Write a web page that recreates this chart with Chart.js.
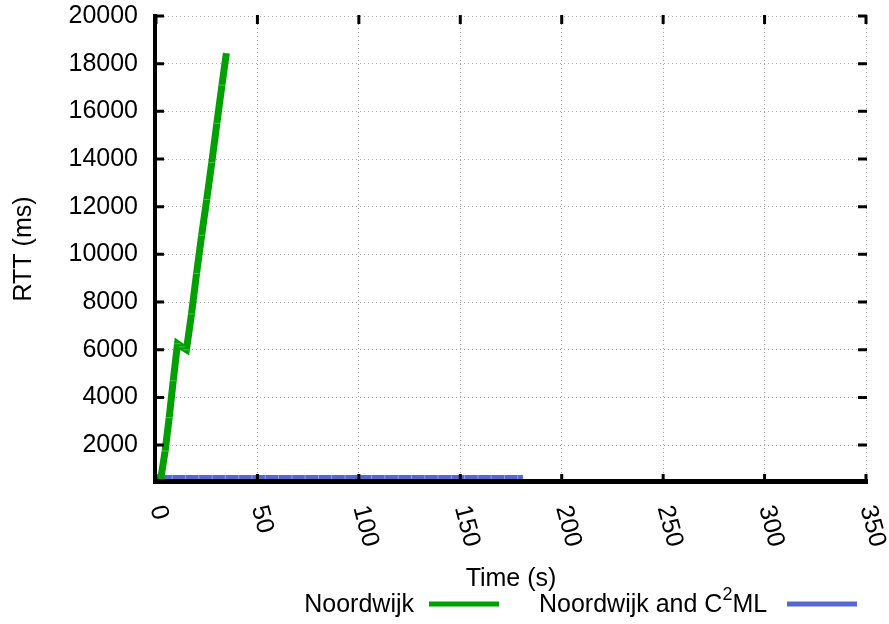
<!DOCTYPE html>
<html>
<head>
<meta charset="utf-8">
<script src="https://cdn.jsdelivr.net/npm/chart.js@4/dist/chart.umd.min.js"></script>
<style>
  body { margin: 0; background: #fff; }
</style>
</head>
<body>
<canvas id="chart" width="889" height="624"></canvas>
<script>
// data
const greenTime = [2.2, 4.5, 6.5, 8.5, 10.6, 12.8, 15.0, 17.5, 20.0, 22.5, 25.0, 27.5, 30.0, 32.5, 34.7];
const greenRtt  = [500, 1750, 3150, 4700, 6250, 6120, 6000, 7500, 9200, 10800, 12300, 13850, 15500, 17100, 18450];

const blueTime = [1.4, 8.0, 14.6, 21.1, 27.7, 34.2, 40.8, 47.3, 53.9, 60.4, 67.0, 73.5, 80.1, 86.6, 93.2,
                  99.7, 106.3, 112.8, 119.4, 125.9, 132.5, 139.0, 145.6, 152.1, 158.7, 165.2, 171.8, 178.3, 181.0];
const blueRtt  = [620, 618, 621, 619, 620, 622, 618, 620, 621, 619, 620, 618, 620, 622, 619,
                  620, 621, 618, 620, 619, 621, 620, 618, 620, 622, 619, 620, 621, 620];

const xTicks = [0, 50, 100, 150, 200, 250, 300, 350];
const yTicks = [2000, 4000, 6000, 8000, 10000, 12000, 14000, 16000, 18000, 20000];

const FONT = '"Liberation Sans", Arial, sans-serif';
const GREEN = '#00a000';
const BLUE = '#5468d4';

// border, inward ticks, rotated x labels, legend
const frame = {
    id: 'frame',
    afterDraw(chart) {
        const { ctx, chartArea: a, scales: { x, y } } = chart;
        ctx.save();
        ctx.strokeStyle = '#000';

        ctx.lineWidth = 3;
        ctx.beginPath();
        yTicks.forEach(v => {
            const py = y.getPixelForValue(v);
            ctx.moveTo(a.left, py); ctx.lineTo(a.left + 8, py);
            ctx.moveTo(a.right + 1, py); ctx.lineTo(a.right - 8, py);
        });
        xTicks.forEach(v => {
            const px = x.getPixelForValue(v);
            ctx.moveTo(px, a.bottom); ctx.lineTo(px, a.bottom - 8);
            ctx.moveTo(px, a.top - 1); ctx.lineTo(px, a.top + 8);
        });
        ctx.stroke();

        ctx.lineWidth = 4;
        ctx.beginPath();
        ctx.moveTo(a.left - 1, a.top - 2);
        ctx.lineTo(a.left - 1, a.bottom - 0.5);
        ctx.stroke();
        ctx.lineWidth = 5;
        ctx.beginPath();
        ctx.moveTo(a.left - 3, a.bottom - 0.5);
        ctx.lineTo(a.right + 2, a.bottom - 0.5);
        ctx.stroke();

        // x tick labels, slanted downwards
        ctx.fillStyle = '#000';
        ctx.font = '25px ' + FONT;
        ctx.textAlign = 'left';
        ctx.textBaseline = 'middle';
        xTicks.forEach(v => {
            ctx.save();
            ctx.translate(x.getPixelForValue(v) + 1, a.bottom + 24);
            ctx.rotate(75 * Math.PI / 180);
            ctx.fillText(String(v), 0, 0);
            ctx.restore();
        });

        // legend
        ctx.textBaseline = 'alphabetic';
        ctx.textAlign = 'right';
        ctx.fillText('Noordwijk', 414, 612);
        ctx.lineWidth = 5;
        ctx.strokeStyle = GREEN;
        ctx.beginPath(); ctx.moveTo(429, 604); ctx.lineTo(499, 604); ctx.stroke();

        ctx.textAlign = 'left';
        let tx = 539;
        ctx.fillText('Noordwijk and C', tx, 612);
        tx += ctx.measureText('Noordwijk and C').width;
        ctx.font = '18px ' + FONT;
        ctx.fillText('2', tx, 600);
        tx += ctx.measureText('2').width;
        ctx.font = '25px ' + FONT;
        ctx.fillText('ML', tx, 612);
        ctx.strokeStyle = BLUE;
        ctx.beginPath(); ctx.moveTo(787, 604); ctx.lineTo(857, 604); ctx.stroke();

        ctx.restore();
    }
};

new Chart(document.getElementById('chart'), {
    type: 'line',
    data: {
        datasets: [
            {
                label: 'Noordwijk',
                data: greenTime.map((t, i) => ({ x: t, y: greenRtt[i] })),
                borderColor: GREEN,
                borderWidth: 7,
                pointStyle: 'line',
                pointRadius: 3,
                pointBorderWidth: 1,
                pointBorderColor: 'rgba(255,255,255,0.3)',
                tension: 0
            },
            {
                label: 'Noordwijk and C2ML',
                data: blueTime.map((t, i) => ({ x: t, y: blueRtt[i] })),
                borderColor: BLUE,
                borderWidth: 6,
                pointStyle: 'line',
                pointRotation: 90,
                pointRadius: 3,
                pointBorderWidth: 1,
                pointBorderColor: 'rgba(255,255,255,0.35)',
                tension: 0
            }
        ]
    },
    options: {
        responsive: false,
        animation: false,
        layout: { padding: { top: 16, right: 23, left: 0, bottom: 0 } },
        plugins: { legend: { display: false }, tooltip: { enabled: false } },
        scales: {
            x: {
                type: 'linear',
                min: 0,
                max: 350,
                afterBuildTicks: s => { s.ticks = xTicks.map(v => ({ value: v })); },
                afterFit: s => { s.height = 142; s.paddingLeft = 0; s.paddingRight = 0; },
                ticks: { display: false },
                grid: { color: '#a8a8a8', lineWidth: 1, drawTicks: false },
                border: { display: false, dash: [1, 3] },
                title: {
                    display: true,
                    text: 'Time (s)',
                    color: '#000',
                    font: { family: FONT, size: 25 },
                    padding: { bottom: 30 }
                }
            },
            y: {
                type: 'linear',
                min: 450,
                max: 20000,
                afterBuildTicks: s => { s.ticks = yTicks.map(v => ({ value: v })); },
                afterFit: s => { s.width = 156; s.paddingTop = 0; s.paddingBottom = 0; },
                ticks: {
                    color: '#000',
                    font: { family: FONT, size: 25 },
                    padding: 18,
                    callback: v => String(v)
                },
                grid: { color: '#a8a8a8', lineWidth: 1, drawTicks: false },
                border: { display: false, dash: [1, 3] },
                title: {
                    display: true,
                    text: 'RTT (ms)',
                    color: '#000',
                    font: { family: FONT, size: 25 },
                    padding: { top: 9 }
                }
            }
        }
    },
    plugins: [frame]
});
</script>
</body>
</html>
